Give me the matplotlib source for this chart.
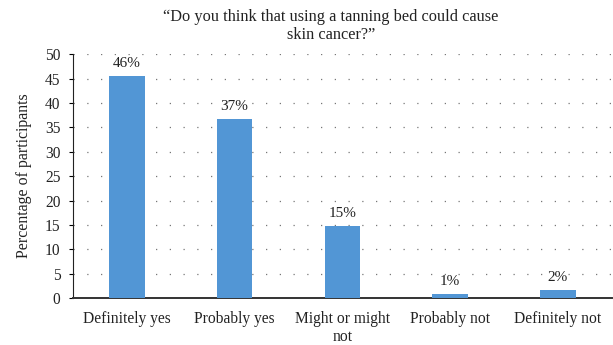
import matplotlib
matplotlib.use("Agg")
from matplotlib import pyplot as plt

categories = ["Definitely yes", "Probably yes", "Might or might\nnot", "Probably not", "Definitely not"]
values = [45.5, 36.7, 14.8, 0.8, 1.6]
labels = ["46%", "37%", "15%", "1%", "2%"]

plt.rcParams['font.family'] = ['Liberation Serif', 'DejaVu Serif']

fig = plt.figure(figsize=(6.13, 3.45), dpi=100)
ax = fig.add_axes([0.119, 0.136, 0.879, 0.707])

x = range(len(categories))
ax.bar(x, values, width=0.33, color='#5296d5', zorder=3)
for i, (v, lab) in enumerate(zip(values, labels)):
    ax.text(i, v + 1.3, lab, ha='center', va='bottom', fontsize=11, color='#222222')

ax.set_xlim(-0.5, 4.5)
ax.set_ylim(0, 50)
ax.set_yticks(range(0, 51, 5))
ax.set_xticks(list(x))
ax.set_xticklabels(categories, fontsize=11.2, color='#222222', linespacing=1.2)
ax.tick_params(axis='x', length=0, pad=9)
ax.tick_params(axis='y', labelsize=11.2, length=3, direction='out', labelcolor='#222222', pad=6)
ax.yaxis.grid(True, linestyle=(0, (1, 10)), color='#777777', linewidth=0.9)
ax.set_axisbelow(True)
for s in ['top', 'right']:
    ax.spines[s].set_visible(False)
ax.spines['left'].set_color('#222222')
ax.spines['bottom'].set_color('#333333')
ax.spines['bottom'].set_linewidth(1.4)
ax.set_ylabel("Percentage of participants", fontsize=11.4, color='#222222', labelpad=9)

fig.text(0.54, 0.975, "\u201cDo you think that using a tanning bed could cause\nskin cancer?\u201d",
         ha='center', va='top', fontsize=11.8, color='#222222', linespacing=1.2)

fig.savefig("out.png", dpi=100)
